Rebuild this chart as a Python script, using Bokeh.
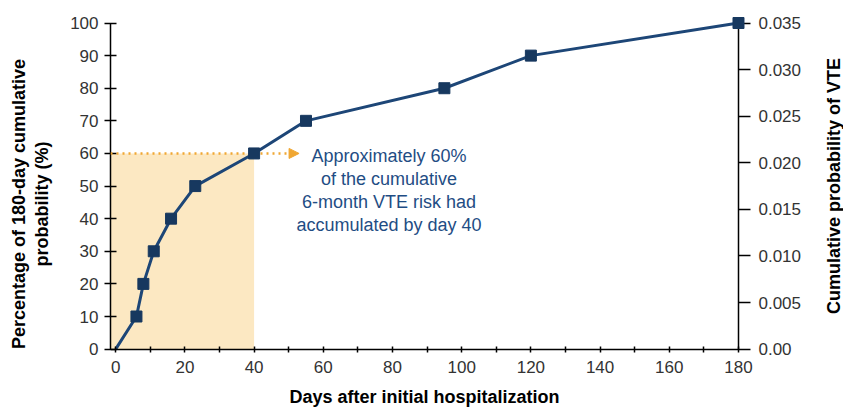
import math
from bokeh.plotting import figure
from bokeh.models import (Range1d, LinearAxis, FixedTicker, Arrow, NormalHead,
                          Label, PrintfTickFormatter)
from bokeh.embed import file_html
from bokeh.resources import INLINE

# ---- data ----
days = [0, 6, 8, 11, 16, 23, 40, 55, 95, 120, 180]
pct = [0, 10, 20, 30, 40, 50, 60, 70, 80, 90, 100]
x_ticks = [0, 20, 40, 60, 80, 100, 120, 140, 160, 180]
x_minor = [10, 30, 50, 70, 90, 110, 130, 150, 170]
y_ticks = [0, 10, 20, 30, 40, 50, 60, 70, 80, 90, 100]
prob_ticks = [0.0, 0.005, 0.010, 0.015, 0.020, 0.025, 0.030, 0.035]
prob_max = 0.035
shade_day = 40
shade_pct = 60
arrow_end_day = 53
note = "Approximately 60%\nof the cumulative\n6-month VTE risk had\naccumulated by day 40"
x_title = "Days after initial hospitalization"
y_title = "Percentage of 180-day cumulative\nprobability (%)"
y2_title = "Cumulative probability of VTE"

# view extents (frame fills the canvas to the right/top/bottom; axes are pinned)
X0, X1 = -1.5, 210.35
Y0, Y1 = -17.9, 106.9
XMAX, YMAX = 180, 100

FONT = "Liberation Sans"
NAVY = "#1d4677"
MARK = "#17385f"
ORANGE = "#f0a733"
SHADE = "#fce8c2"
TXT = "#1f4d84"

p = figure(width=843, height=407, output_backend="svg", toolbar_location=None,
           x_range=Range1d(X0, X1), y_range=Range1d(Y0, Y1),
           min_border_left=110, min_border_right=0, min_border_top=0,
           min_border_bottom=0)
p.outline_line_color = None
p.grid.visible = False
p.background_fill_color = "white"
p.border_fill_color = "white"
p.xaxis.visible = False
p.yaxis.visible = False

k = prob_max / YMAX
p.extra_y_ranges = {"prob": Range1d(Y0 * k, Y1 * k)}

# shaded region
p.quad(left=[X0], right=[shade_day], bottom=[0], top=[shade_pct],
       fill_color=SHADE, line_color=None)

# dotted arrow
p.add_layout(Arrow(end=NormalHead(size=10, fill_color=ORANGE, line_color=ORANGE),
                   x_start=X0, y_start=shade_pct, x_end=arrow_end_day, y_end=shade_pct,
                   line_color=ORANGE, line_width=2.5, line_dash="2 4"))

# main line
p.line(days, pct, line_color=NAVY, line_width=3)
p.scatter(days[1:], pct[1:], marker="square", size=11, fill_color=MARK,
          line_color=MARK, level="overlay")

p.add_layout(Label(x=79, y=62.3, text=note, text_align="center", text_baseline="top",
                   text_font=FONT, text_font_size="18px", text_color=TXT,
                   text_line_height=1.15))

def style(ax):
    ax.axis_line_color = "black"
    ax.axis_line_width = 1.5
    ax.major_tick_line_color = "black"
    ax.major_tick_line_width = 1.5
    ax.minor_tick_line_color = "black"
    ax.minor_tick_line_width = 1.5
    ax.major_label_text_font = FONT
    ax.major_label_text_font_size = "17px"
    ax.major_label_text_color = "#333333"
    ax.axis_label_text_font = FONT
    ax.axis_label_text_font_size = "18px"
    ax.axis_label_text_font_style = "bold"
    ax.axis_label_text_color = "black"
    ax.axis_label_text_line_height = 1.15

xa = LinearAxis(ticker=FixedTicker(ticks=x_ticks, minor_ticks=x_minor),
                fixed_location=0, bounds=(X0, XMAX))
style(xa)
xa.major_tick_in = 3
xa.major_tick_out = 3
xa.minor_tick_in = 3
xa.minor_tick_out = 3
xa.major_label_standoff = 9
p.add_layout(xa, "below")

ya = LinearAxis(ticker=FixedTicker(ticks=y_ticks), bounds=(0, YMAX))
style(ya)
ya.major_tick_in = 6
ya.major_tick_out = 6
ya.minor_tick_in = 0
ya.minor_tick_out = 0
ya.major_label_standoff = 6
ya.axis_label = y_title
ya.axis_label_standoff = 15
p.add_layout(ya, "left")

ra = LinearAxis(y_range_name="prob", ticker=FixedTicker(ticks=prob_ticks),
                formatter=PrintfTickFormatter(format="%.3f"),
                fixed_location=XMAX, bounds=(0, prob_max))
style(ra)
ra.major_label_overrides = {0: "0.00"}
ra.major_tick_in = 0
ra.major_tick_out = 12
ra.minor_tick_in = 0
ra.minor_tick_out = 0
ra.major_label_standoff = 8
p.add_layout(ra, "right")

# axis titles placed as text annotations (bottom and right)
p.add_layout(Label(x=(X0 + XMAX) / 2, y=-14.8, text=x_title, text_align="center",
                   text_baseline="middle", text_font=FONT, text_font_size="18px",
                   text_font_style="bold", text_color="black"))
p.add_layout(Label(x=207.5, y=50, text=y2_title, text_align="center",
                   text_baseline="middle", angle=math.pi / 2, text_font=FONT,
                   text_font_size="18px", text_font_style="bold", text_color="black"))

open("out.html", "w").write(file_html(p, INLINE))
